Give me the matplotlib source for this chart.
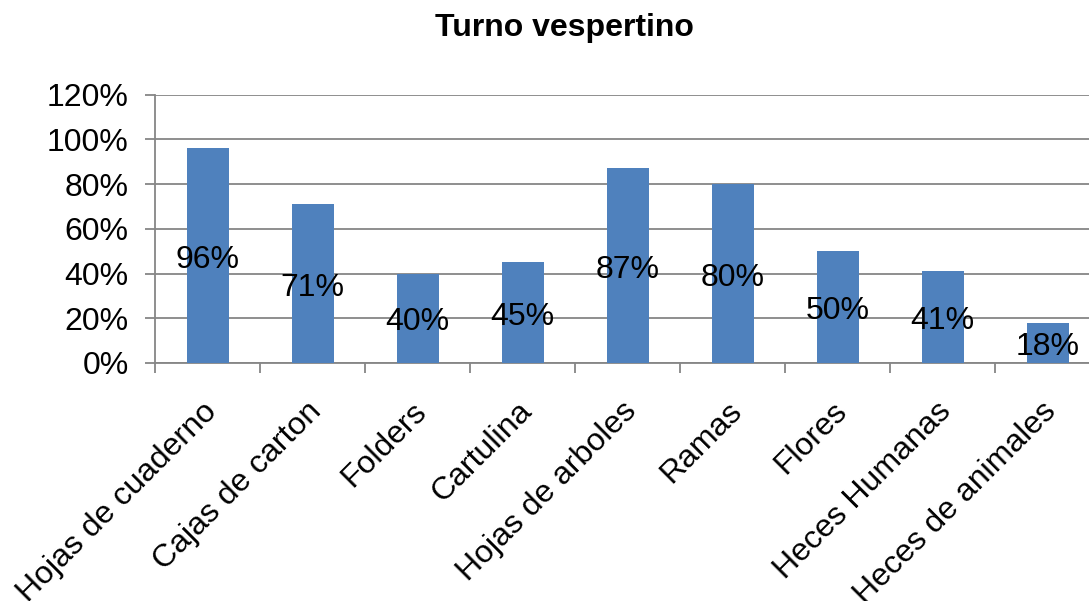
import matplotlib
matplotlib.use("Agg")
import matplotlib.pyplot as plt
import matplotlib.transforms as mtransforms
from matplotlib.ticker import FuncFormatter, FixedLocator

plt.rcParams['font.family'] = ['Liberation Sans', 'DejaVu Sans']

categories = ["Hojas de cuaderno", "Cajas de carton", "Folders", "Cartulina",
              "Hojas de arboles", "Ramas", "Flores", "Heces Humanas",
              "Heces de animales"]
values = [0.96, 0.71, 0.40, 0.45, 0.87, 0.80, 0.50, 0.41, 0.18]
title = "Turno vespertino"

bar_color = "#4F81BD"
grid_color = "#868686"

fig = plt.figure(figsize=(10.89, 6.01), dpi=100)
ax = fig.add_axes([155 / 1089, 1 - 363 / 601, 945 / 1089, (363 - 94.7) / 601])

x = list(range(len(categories)))
bars = ax.bar(x, values, width=0.4, color=bar_color, zorder=3)

# labels sit in the middle of each bar (a touch low, like excel does)
for xi, v in zip(x, values):
    ax.annotate(f"{round(v * 100)}%", (xi, v / 2), xytext=(0, -3),
                textcoords="offset points", ha="center", va="center",
                fontsize=23, color="black", zorder=4)

ax.set_ylim(0, 1.2)
ax.set_xlim(-0.5, len(categories) - 0.5)
ax.set_yticks([0, 0.2, 0.4, 0.6, 0.8, 1.0, 1.2])
ax.yaxis.set_major_formatter(FuncFormatter(lambda v, p: f"{round(v * 100)}%"))
ax.yaxis.grid(True, color=grid_color, linewidth=1.3, zorder=0)
ax.set_axisbelow(True)

ax.set_xticks(x)
ax.set_xticklabels(categories, rotation=45, ha="right", va="top",
                   rotation_mode="anchor", fontsize=23)
ax.tick_params(axis="x", which="major", length=0, pad=24)
offset = mtransforms.ScaledTranslation(-6 / 100, 0, fig.dpi_scale_trans)
for lbl in ax.get_xticklabels():
    lbl.set_transform(lbl.get_transform() + offset)
ax.xaxis.set_minor_locator(FixedLocator([i - 0.5 for i in range(len(categories) + 1)]))
ax.tick_params(axis="x", which="minor", length=7, width=1.3, color=grid_color)
ax.tick_params(axis="y", length=7, width=1.3, color=grid_color, pad=12,
               labelsize=23)

for s in ["top", "right"]:
    ax.spines[s].set_visible(False)
for s in ["left", "bottom"]:
    ax.spines[s].set_color(grid_color)
    ax.spines[s].set_linewidth(1.3)

fig.text(564 / 1089, 1 - 28 / 601, title, ha="center", va="center",
         fontsize=23, fontweight="bold")

fig.savefig("out.png", dpi=100)
